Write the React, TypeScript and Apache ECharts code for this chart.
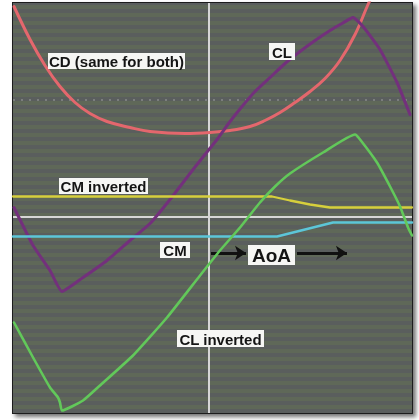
import React, { useEffect, useRef } from "react";
import * as echarts from "echarts";

// Angle of attack (x) and coefficient (y) readings for each curve
const cdAoA = [-19.5, -17.89, -16.39, -14.89, -13.38, -11.88, -10.18, -7.87, -5.86, -2.36, 0.15, 2.16, 4.16, 5.66, 7.17, 8.67, 10.18, 11.68, 13.18, 14.69, 15.99, 16.39];
const cdVal = [2.1, 1.77, 1.51, 1.3, 1.14, 1.03, 0.95, 0.89, 0.85, 0.83, 0.84, 0.86, 0.9, 0.96, 1.04, 1.14, 1.25, 1.38, 1.56, 1.82, 2.12, 2.2];

const clAoA = [-19.5, -17.59, -15.89, -14.69, -12.58, -10.18, -7.87, -5.86, -3.86, -1.55, 0.05, 0.85, 2.16, 3.36, 4.66, 6.17, 7.67, 9.17, 10.68, 12.18, 13.38, 14.49, 15.49, 17.19, 18.9, 20.2];
const clVal = [0.09, -0.29, -0.54, -0.75, -0.61, -0.44, -0.24, -0.07, 0.17, 0.47, 0.67, 0.77, 0.95, 1.1, 1.25, 1.39, 1.53, 1.65, 1.76, 1.86, 1.93, 1.99, 1.9, 1.67, 1.34, 1.02];

const cmInvAoA = [-19.6, 6.37, 8.17, 10.18, 12.18, 20.4];
const cmInvVal = [0.2, 0.2, 0.16, 0.12, 0.09, 0.09];

const cmAoA = [-19.6, 6.87, 12.48, 20.4];
const cmVal = [-0.2, -0.2, -0.06, -0.06];

const clInvAoA = [-19.5, -17.59, -15.89, -15.09, -14.89, -14.69, -12.58, -10.88, -7.57, -4.16, -0.85, 1.15, 3.16, 5.16, 6.67, 8.17, 11.48, 14.69, 15.19, 16.89, 18.2, 19.2, 20.0, 20.4];
const clInvVal = [-1.06, -1.41, -1.71, -1.81, -1.86, -1.94, -1.84, -1.69, -1.39, -1.01, -0.59, -0.34, -0.11, 0.14, 0.3, 0.43, 0.64, 0.82, 0.77, 0.54, 0.3, 0.1, -0.11, -0.19];

const xMin = -19.6;
const xMax = 20.4;
const yMin = -1.965;
const yMax = 2.135;

const zip = (xs: number[], ys: number[]) => xs.map((x, i) => [x, ys[i]]);

const FONT = '"Liberation Sans", Arial, Helvetica, sans-serif';

function label(text: string, x: number, y: number, w: number, h: number, size: number) {
  return {
    type: "group",
    z: 100,
    children: [
      { type: "rect", shape: { x, y, width: w, height: h }, style: { fill: "#f6f6f4" }, z: 100 },
      {
        type: "text",
        x: x + w / 2,
        y: y + h / 2 + 0.5,
        z: 101,
        style: { text, font: `bold ${size}px ${FONT}`, fill: "#141414", align: "center", verticalAlign: "middle" },
      },
    ],
  };
}

export default function App() {
  const ref = useRef<HTMLDivElement>(null);
  useEffect(() => {
    if (!ref.current) return;
    const chart = echarts.init(ref.current, undefined, { renderer: "svg" });
    const lineSeries = (name: string, data: number[][], color: string, width: number, smooth: number | boolean) => ({
      name,
      type: "line",
      data,
      showSymbol: false,
      symbol: "none",
      smooth,
      lineStyle: { color, width, cap: "round", join: "round" },
      z: 5,
      silent: true,
    });
    chart.setOption({
      animation: false,
      grid: {
        left: 13,
        top: 3,
        right: 7,
        bottom: 7,
        show: true,
        backgroundColor: "#5b5f5b",
        borderColor: "#1a1a1a",
        borderWidth: 2,
        shadowColor: "rgba(0,0,0,0.55)",
        shadowBlur: 4,
        shadowOffsetX: 3,
        shadowOffsetY: 3,
      },
      xAxis: { type: "value", min: xMin, max: xMax, show: false },
      yAxis: [
        { type: "value", min: yMin, max: yMax, show: false },
        {
          type: "value",
          min: 0,
          max: 410,
          interval: 4,
          position: "right",
          axisLabel: { show: false },
          axisLine: { show: false },
          axisTick: { show: false },
          splitLine: { show: false },
          splitArea: { show: true, areaStyle: { color: ["#5a5e5d", "#5f6858"] } },
        },
      ],
      series: [
        {
          type: "line",
          data: [],
          z: 3,
          silent: true,
          markLine: {
            silent: true,
            symbol: "none",
            label: { show: false },
            data: [
              { yAxis: 1.165, lineStyle: { color: "rgba(225,225,225,0.25)", width: 2, type: [2, 6] } },
              { yAxis: 0, lineStyle: { color: "#d6d6d6", width: 2, type: "solid" } },
              { xAxis: 0, lineStyle: { color: "#d6d6d6", width: 2, type: "solid" } },
            ],
          },
        },
        lineSeries("CD", zip(cdAoA, cdVal), "#e4676d", 3, 0.4),
        lineSeries("CL", zip(clAoA, clVal), "#73307c", 3, 0.15),
        lineSeries("CM inverted", zip(cmInvAoA, cmInvVal), "#d6cf3c", 2.3, false),
        lineSeries("CM", zip(cmAoA, cmVal), "#5cc6d8", 2.5, false),
        lineSeries("CL inverted", zip(clInvAoA, clInvVal), "#62c85a", 2.6, 0.15),
        {
          type: "line",
          data: [],
          z: 8,
          silent: true,
          markLine: {
            silent: true,
            symbol: ["none", "arrow"],
            symbolSize: [11, 11],
            label: { show: false },
            lineStyle: { color: "#111", width: 3, type: "solid" },
            data: [
              [{ coord: [0.25, -0.365] }, { coord: [3.76, -0.365] }],
              [{ coord: [8.87, -0.365] }, { coord: [13.88, -0.365] }],
            ],
          },
        },
      ],
      graphic: [
        label("CD (same for both)", 48, 53, 137, 16, 15),
        label("CL", 269, 43, 26, 17, 15),
        label("CM inverted", 59, 178, 89, 16, 15),
        label("CM", 160, 242, 30, 16, 15),
        label("CL inverted", 177, 330, 87, 17, 15),
        label("AoA", 248, 245, 47, 20, 19),
      ],
    });
    return () => chart.dispose();
  }, []);
  return <div ref={ref} style={{ position: "fixed", left: 0, top: 0, width: 419, height: 420 }} />;
}
